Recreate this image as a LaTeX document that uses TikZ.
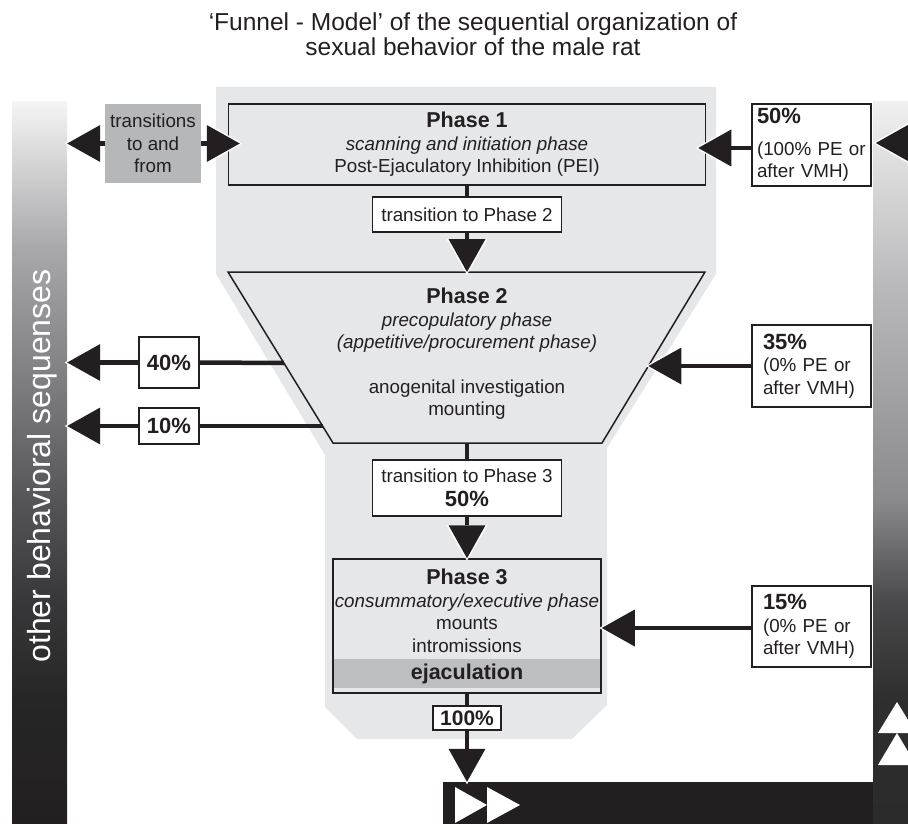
\documentclass[tikz,border=0pt]{standalone}
\usepackage{fontspec}
\setmainfont{Liberation Sans}
\usetikzlibrary{arrows.meta,calc}
\definecolor{dk}{HTML}{231F20}
\definecolor{fun}{HTML}{E6E7E8}
\definecolor{trg}{HTML}{B5B7B9}
\definecolor{ejc}{HTML}{BCBEC0}
\definecolor{sa}{HTML}{F4F4F4}
\definecolor{sb}{HTML}{A8A8AA}
\definecolor{sc}{HTML}{78787A}
\definecolor{sd}{HTML}{555557}
\definecolor{se}{HTML}{38383A}
\definecolor{sf}{HTML}{262626}
\definecolor{ra}{HTML}{F0F0F0}
\definecolor{rb}{HTML}{B8B8BA}
\definecolor{rc}{HTML}{8A8A8C}
\definecolor{rd}{HTML}{4A4A4C}
\definecolor{re}{HTML}{2E2E2E}
\definecolor{rf}{HTML}{2B2B2B}
\pgfdeclareverticalshading{lbarsh}{100bp}{color(0bp)=(dk); color(25bp)=(dk); color(33.6bp)=(sf); color(40.5bp)=(se); color(47.4bp)=(sd); color(54.4bp)=(sc); color(64.8bp)=(sb); color(75bp)=(sa); color(100bp)=(sa)}
\pgfdeclareverticalshading{rbarsh}{100bp}{color(0bp)=(rf); color(25bp)=(rf); color(33.6bp)=(re); color(40.5bp)=(rd); color(47.4bp)=(rc); color(62bp)=(rb); color(75bp)=(ra); color(100bp)=(ra)}
\newcommand\phtitle[1]{{\fontsize{21.5}{22.5}\selectfont\bfseries #1}}
\newcommand\pctxt[1]{{\fontsize{22}{22.5}\selectfont\bfseries #1}}
\tikzset{
  every node/.style={text=dk, inner sep=0pt},
  reg/.style={font=\fontsize{18.8}{22.5}\selectfont},
  phasebox/.style={draw=dk, line width=1.5pt, fill=fun},
  lblbox/.style={draw=dk, line width=1.6pt, fill=white},
  conn/.style={draw=dk, line width=4.5pt},
  arr/.style={conn, -{Triangle[length=33pt,width=37pt,line width=0pt 0 0]}},
  halo/.style={draw=white, line width=0.4pt, -{Triangle[length=35.5pt,width=41pt,line width=0pt 0 0]}},
}
% #1 from, #2 to, #3 shorten of the black arrow, #4 shorten of its white halo (#3 - 2.5)
\newcommand\hdarrow[4]{%
  \draw[halo, shorten >=#4pt] #1 -- #2;
  \draw[arr, shorten >=#3pt] #1 -- #2;}
\begin{document}
\begin{tikzpicture}[x=1pt,y=-1pt]
\useasboundingbox (0,0) rectangle (908,824);
% funnel background
\fill[fun] (216,87) -- (716,87) -- (716,274) -- (607,448) -- (607,705) -- (572,739)
  -- (357,739) -- (325,707) -- (325,455) -- (216,274) -- cycle;
% side bars
\node[shade, shading=lbarsh, minimum width=55pt, minimum height=722pt] (lbar) at (39.5,463) {};
\node[shade, shading=rbarsh, minimum width=35pt, minimum height=722pt] (rbar) at (890.5,463) {};
\node[fill=dk, minimum width=430pt, minimum height=42pt] (bbar) at (658,803) {};
\node[rotate=90, anchor=base, text=white, font=\fontsize{32}{34}\selectfont] (lbt) at (50,466) {other behavioral sequenses};
% title
\node[align=center, font=\fontsize{24.5}{25}\selectfont] (title) at (473,34)
  {‘Funnel - Model’ of the sequential organization of\\ sexual behavior of the male rat};
% phase 1
\node[phasebox, reg, minimum width=477pt, minimum height=81pt, align=center] (p1) at (467,144.5)
  {\phtitle{Phase 1}\\ \textit{scanning and initiation phase}\\ Post-Ejaculatory Inhibition (PEI)};
\node[fill=trg, reg, minimum width=96pt, minimum height=79pt, align=center] (tr) at (153,143.5)
  {transitions\\ to and\\ from};
\node[lblbox, reg, minimum width=189pt, minimum height=35pt] (t2) at (467,214.5) {transition to Phase 2};
% phase 2 trapezoid
\coordinate (p2tl) at (228,272);
\coordinate (p2tr) at (705,272);
\coordinate (p2br) at (602,443);
\coordinate (p2bl) at (333,443);
\coordinate (p2top) at (467,272);
\coordinate (p2bot) at (467,443);
\coordinate (p2e40) at (283.9,363);
\coordinate (p2e10) at (322.6,426);
\coordinate (p2e35) at (648.4,366);
\draw[phasebox] (p2tl) -- (p2tr) -- (p2br) -- (p2bl) -- cycle;
\node[reg, align=center] (p2) at (467,354)
  {\phtitle{Phase 2}\\ \textit{precopulatory phase}\\ \textit{(appetitive/procurement phase)}\\[22pt] anogenital investigation\\ mounting};
\node[lblbox, reg, minimum width=189pt, minimum height=56pt, align=center] (t3) at (467,488)
  {transition to Phase 3\\[2pt] \pctxt{50\%}};
% phase 3
\node[phasebox, minimum width=268pt, minimum height=134pt] (p3) at (467,626) {};
\node[fill=ejc, minimum width=266.5pt, minimum height=29pt, font=\fontsize{21.5}{22.5}\selectfont\bfseries] (ej) at (467,673.5) {ejaculation};
\node[reg, align=center] (p3t) at (467,611)
  {\phtitle{Phase 3}\\ \textit{consummatory/executive phase}\\ mounts\\ intromissions};
\node[lblbox, minimum width=68pt, minimum height=24pt, font=\fontsize{21}{22}\selectfont\bfseries] (b100) at (467,718) {100\%};
% side boxes
\node[lblbox, minimum width=60pt, minimum height=51pt, font=\fontsize{22}{22.5}\selectfont\bfseries] (b40) at (169,362.5) {40\%};
\node[lblbox, minimum width=60pt, minimum height=36pt, font=\fontsize{22}{22.5}\selectfont\bfseries] (b10) at (169,426) {10\%};
\node[lblbox, reg, minimum height=82pt, text width=109pt, inner xsep=5pt, align=left] (b50) at (811.5,145)
  {\pctxt{50\%}\\[9pt] (100\% PE or\\ after VMH)};
\node[lblbox, reg, minimum height=82pt, text width=97pt, inner xsep=11pt, align=left] (b35) at (811.5,366)
  {\pctxt{35\%}\\ (0\% PE or\\ after VMH)};
\node[lblbox, reg, minimum height=81pt, text width=97pt, inner xsep=11pt, align=left] (b15) at (811.5,626.5)
  {\pctxt{15\%}\\ (0\% PE or\\ after VMH)};
% connectors
\draw[conn] (p1) -- (t2);
\hdarrow{(t2)}{(p2top)}{0}{-2.5}
\draw[conn] (p2bot) -- (t3);
\hdarrow{(t3)}{(p3)}{0}{-2.5}
\draw[conn] (p3) -- (b100);
\hdarrow{(b100)}{(b100 |- bbar.north)}{0}{-2.5}
\hdarrow{(tr.west)}{(tr.west -| lbar.east)}{0}{-2.5}
\hdarrow{(tr.east)}{(tr.east -| p1.west)}{-12}{-14.5}
\draw[conn] (p2e40) -- (b40.east);
\hdarrow{(b40.west)}{(b40.west -| lbar.east)}{0}{-2.5}
\draw[conn] (p2e10) -- (b10.east);
\hdarrow{(b10.west)}{(b10.west -| lbar.east)}{0}{-2.5}
\hdarrow{([yshift=-3pt]b50.west)}{([yshift=-3pt]b50.west -| p1.east)}{-8}{-10.5}
\coordinate (offr) at (945,143);
\hdarrow{(offr)}{(offr -| b50.east)}{4}{1.5}
\hdarrow{(b35.west)}{(p2e35)}{0}{-2.5}
\hdarrow{([yshift=-1.5pt]b15.west)}{([yshift=-1.5pt]b15.west -| p3.east)}{0}{-2.5}
% white direction marks on bars
\fill[white] (878,733) -- (897,702) -- (916,733) -- cycle;
\fill[white] (878,765) -- (897,733) -- (916,765) -- cycle;
\fill[white] (455,787) -- (487,805) -- (455,823) -- cycle;
\fill[white] (487,787) -- (520,805) -- (487,823) -- cycle;
\end{tikzpicture}
\end{document}
